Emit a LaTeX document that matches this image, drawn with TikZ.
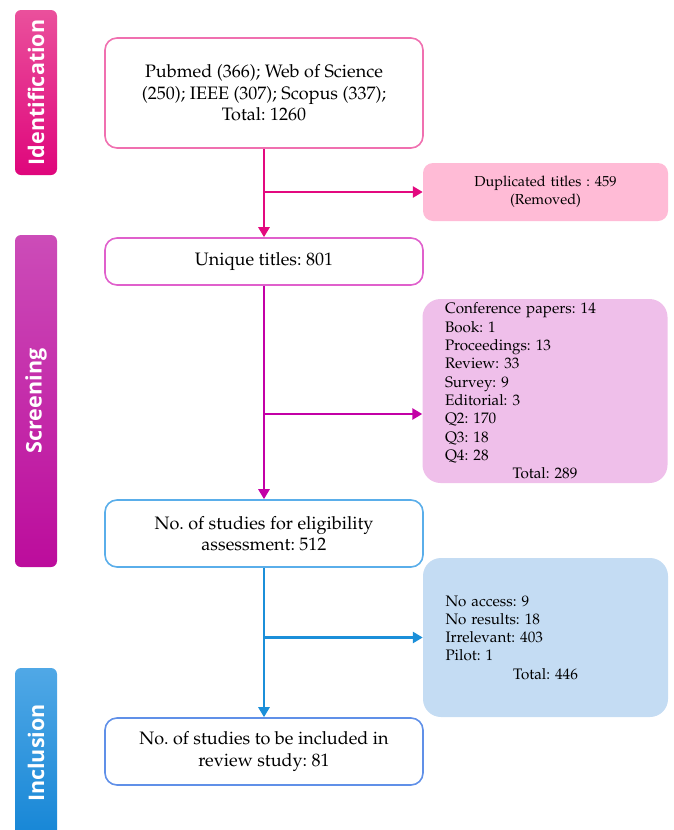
\documentclass[tikz,border=0pt]{standalone}
\usepackage{fontspec}
\newfontfamily\labfont{Open Sans}
\usepackage[T1]{fontenc}
\usepackage{mathpazo}
\usetikzlibrary{arrows.meta}
\frenchspacing
\definecolor{idA}{HTML}{EA509C}
\definecolor{idB}{HTML}{DF067C}
\definecolor{scA}{HTML}{CC4CB8}
\definecolor{scB}{HTML}{BC0C9C}
\definecolor{inA}{HTML}{50A8E6}
\definecolor{inB}{HTML}{1686D6}
\definecolor{bdOne}{HTML}{F070B0}
\definecolor{bdTwo}{HTML}{E060CC}
\definecolor{bdThree}{HTML}{5AAEEA}
\definecolor{bdFour}{HTML}{6090E8}
\definecolor{arPink}{HTML}{E3097F}
\definecolor{arPurple}{HTML}{C300A6}
\definecolor{arBlue}{HTML}{1B8FD9}
\definecolor{fillDup}{HTML}{FFBBD6}
\definecolor{fillPur}{HTML}{EFBFEA}
\definecolor{fillBlue}{HTML}{C4DCF3}
\begin{document}
\begin{tikzpicture}[x=1pt,y=-1pt,
  mainbox/.style={draw, line width=1.6pt, rounded corners=12pt, fill=white, minimum width=318pt, align=center, font=\fontsize{18}{21.5}\selectfont, inner sep=0pt},
  sidebox/.style={rounded corners=18pt, minimum width=245pt, text width=200pt, align=left, font=\fontsize{15.2}{18.3}\selectfont, inner sep=0pt},
  bar/.style={rotate=90, rounded corners=6pt, minimum height=42pt, text=white, font=\labfont\bfseries\fontsize{21.5}{24}\selectfont, inner sep=0pt},
  conn/.style={line width=2.8pt, -{Triangle[width=11pt,length=10pt]}}
]
\useasboundingbox (0,0) rectangle (674,830);

% phase bars
\node[bar, minimum width=165pt, top color=idA, bottom color=idB] (ident) at (36,92.5) {Identification};
\node[bar, minimum width=332pt, top color=scA, bottom color=scB] (screen) at (36,401) {Screening};
\node[bar, minimum width=170pt, top color=inA, bottom color=inB] (incl) at (36,753) {Inclusion};

% main boxes
\node[mainbox, draw=bdOne, minimum height=110pt] (b1) at (264,93)
  {Pubmed (366); Web of Science\\(250); IEEE (307); Scopus (337);\\Total: 1260};
\node[mainbox, draw=bdTwo, minimum height=47pt] (b2) at (264,261.5)
  {Unique titles: 801};
\node[mainbox, draw=bdThree, minimum height=67pt] (b3) at (264,533.5)
  {No. of studies for eligibility\\assessment: 512};
\node[mainbox, draw=bdFour, minimum height=67pt] (b4) at (264,751.5)
  {No. of studies to be included in\\review study: 81};

% side boxes
\node[sidebox, fill=fillDup, minimum height=58pt, align=center, rounded corners=10pt, font=\fontsize{14.5}{18.5}\selectfont] (dup) at (545.5,192)
  {Duplicated titles : 459\\(Removed)};
\node[sidebox, fill=fillPur, minimum height=184pt] (pur) at (545,391)
  {Conference papers: 14\\Book: 1\\Proceedings: 13\\Review: 33\\Survey: 9\\Editorial: 3\\Q2: 170\\Q3: 18\\Q4: 28\\\makebox[\linewidth]{Total: 289}};
\node[sidebox, fill=fillBlue, minimum height=159pt] (blu) at (545.5,637.5)
  {No access: 9\\No results: 18\\Irrelevant: 403\\Pilot: 1\\\makebox[\linewidth]{Total: 446}};

% connectors
\coordinate (j1) at (b1.south |- dup.west);
\coordinate (j2) at (264,414);
\coordinate (j3) at (b3.south |- blu.west);
\draw[conn, arPink] (b1.south) -- (b2.north);
\draw[conn, arPink] (j1) -- (dup.west);
\draw[conn, arPurple] (b2.south) -- (b3.north);
\draw[conn, arPurple] (j2) -- (j2 -| pur.west);
\draw[conn, arBlue] (b3.south) -- (b4.north);
\draw[conn, arBlue] (j3) -- (blu.west);
\end{tikzpicture}
\end{document}
